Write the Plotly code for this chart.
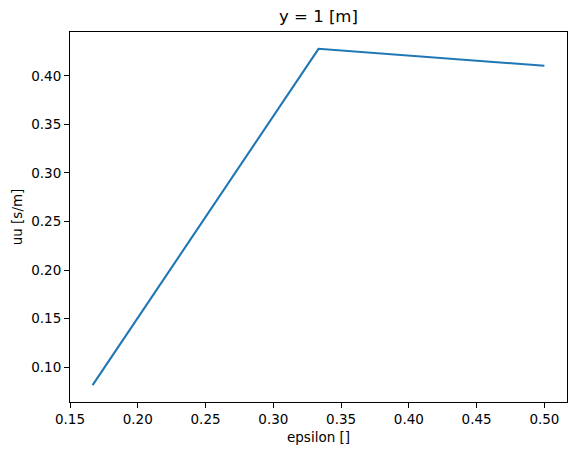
import plotly.graph_objects as go

epsilon = [1/6, 1/3, 1/2]
uu = [0.0814, 0.4278, 0.4103]

x_ticks = [0.15, 0.20, 0.25, 0.30, 0.35, 0.40, 0.45, 0.50]
y_ticks = [0.10, 0.15, 0.20, 0.25, 0.30, 0.35, 0.40]

xr = max(epsilon) - min(epsilon)
yr = max(uu) - min(uu)

fig = go.Figure()
fig.add_trace(go.Scatter(x=epsilon, y=uu, mode="lines",
                         line=dict(color="#1f77b4", width=2.1)))

font = dict(family="DejaVu Sans", size=13.5, color="black")
axis_common = dict(showline=True, linecolor="black", linewidth=1, mirror=True,
                   ticks="outside", ticklen=5, tickwidth=1, tickcolor="black",
                   showgrid=False, zeroline=False, tickfont=font)

fig.update_layout(
    width=576, height=455,
    margin=dict(l=70, r=9, t=32, b=53),
    plot_bgcolor="white", paper_bgcolor="white",
    showlegend=False,
    title=dict(text="y = 1 [m]", x=(70 + 567) / 2 / 576, xanchor="center",
               y=1 - 22 / 455, yanchor="bottom", yref="container",
               font=dict(family="DejaVu Sans", size=16.5, color="black")),
    xaxis=dict(range=[min(epsilon) - 0.05 * xr, max(epsilon) + 0.05 * xr],
               tickvals=x_ticks, ticktext=[f"{v:.2f}" for v in x_ticks],
               title=dict(text="epsilon []", font=font, standoff=6),
               **axis_common),
    yaxis=dict(range=[min(uu) - 0.05 * yr, max(uu) + 0.05 * yr],
               tickvals=y_ticks, ticktext=[f"{v:.2f}" for v in y_ticks],
               title=dict(text="uu [s/m]", font=font, standoff=5),
               **axis_common),
)

fig.write_html("out.html")
